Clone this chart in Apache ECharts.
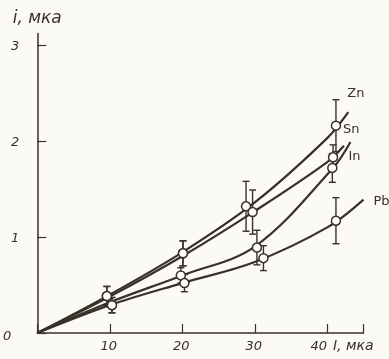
<!DOCTYPE html>
<html><head><meta charset="utf-8">
<script src="https://cdn.jsdelivr.net/npm/echarts@6/dist/echarts.min.js"></script>
<style>html,body{margin:0;padding:0;background:#fbfaf5}#c{width:389px;height:359px}</style>
</head><body><div id="c"></div>
<script>
// Fitted curves [I, i]
const znCurve = [[0,0],[10,0.40],[20,0.84],[30,1.36],[40,2.03],[42.9,2.30]];
const snCurve = [[0,0],[10,0.38],[20,0.80],[30,1.27],[40,1.78],[42.3,1.95]];
const inCurve = [[0,0],[10,0.32],[20,0.60],[30,0.90],[40.8,1.72],[43.2,1.99]];
const pbCurve = [[0,0],[10,0.29],[20,0.52],[30,0.74],[40,1.10],[45,1.39]];
// Measured points [I, i] and error half-widths
const znPts = [[9.6,0.385],[20.1,0.83],[28.8,1.32],[41.2,2.16]];
const znErr = [0.10,0.13,0.26,0.27];
const snPts = [[9.6,0.385],[20.1,0.83],[29.7,1.26],[40.8,1.83]];
const snErr = [0.10,0.13,0.23,0.13];
const inPts = [[10.3,0.29],[19.8,0.60],[30.3,0.89],[40.7,1.72]];
const inErr = [0.08,0.08,0.18,0.15];
const pbPts = [[10.3,0.29],[20.3,0.52],[31.2,0.78],[41.2,1.17]];
const pbErr = [0.08,0.09,0.13,0.24];
const seriesNames = ['Zn','Sn','In','Pb'];
const xTicks = [10,20,30,40];
const yTicks = [1,2,3];

const INK = '#3a302a';
const curves = [znCurve, snCurve, inCurve, pbCurve];
const pts = [znPts, snPts, inPts, pbPts];
const errs = [znErr, snErr, inErr, pbErr];
const labelOffsets = [[-1,-19],[-1,-16],[-2,15],[10,2]];
const FONT = 'DejaVu Sans';

const series = [];
curves.forEach((c, k) => {
  series.push({
    type:'line', name: seriesNames[k], data: c, smooth: 0.35, symbol:'none',
    lineStyle:{color:INK, width:2.2}, z:2, clip:false,
    endLabel:{show:true, formatter: seriesNames[k], distance:0, offset: labelOffsets[k],
      align:'left', verticalAlign:'middle', color:INK, fontSize:13, fontFamily:FONT}
  });
});
pts.forEach((p, k) => {
  series.push({
    type:'custom', z:3, clip:false,
    data: p.map((d,j)=>[d[0], d[1], errs[k][j]]),
    renderItem: function(params, api){
      const x = api.value(0), y = api.value(1), e = api.value(2);
      const top = api.coord([x, y+e]);
      const bot = api.coord([x, y-e]);
      const w = 3.5;
      const st = {stroke:INK, lineWidth:1.4};
      return {type:'group', children:[
        {type:'line', shape:{x1:top[0],y1:top[1],x2:bot[0],y2:bot[1]}, style:st},
        {type:'line', shape:{x1:top[0]-w,y1:top[1],x2:top[0]+w,y2:top[1]}, style:st},
        {type:'line', shape:{x1:bot[0]-w,y1:bot[1],x2:bot[0]+w,y2:bot[1]}, style:st}
      ]};
    }
  });
  series.push({
    type:'scatter', z:4, data:p, symbol:'circle', symbolSize:9,
    itemStyle:{color:'#ffffff', borderColor:INK, borderWidth:1.5, opacity:1}
  });
});

const chart = echarts.init(document.getElementById('c'), null, {renderer:'canvas'});
chart.setOption({
  backgroundColor:'#fbfaf5',
  animation:false,
  grid:{left:35, right:25.5, top:33.5, bottom:26, containLabel:false},
  xAxis:{
    type:'value', min:0, max:45, interval:10,
    axisLine:{lineStyle:{color:INK, width:1.5}},
    axisTick:{inside:true, length:9, lineStyle:{color:INK, width:1.2}},
    splitLine:{show:false},
    axisLabel:{
      margin:7, color:INK, fontFamily:FONT, fontStyle:'italic', fontSize:13,
      formatter: v => xTicks.indexOf(v) < 0 ? '' : (v===40 ? '{f|'+v+'}' : '{n|'+v+'}'),
      rich:{n:{color:INK, fontFamily:FONT, fontStyle:'italic', fontSize:13, padding:[0,2,0,0]},
            f:{color:INK, fontFamily:FONT, fontStyle:'italic', fontSize:13, padding:[0,17,0,0]}}
    },
    name:'I, мка', nameLocation:'end', nameGap:-35,
    nameTextStyle:{color:INK, fontFamily:FONT, fontStyle:'italic', fontSize:14, align:'left', verticalAlign:'top', padding:[6,0,0,0]}
  },
  yAxis:{
    type:'value', min:0, max:3.12, interval:1,
    axisLine:{lineStyle:{color:INK, width:1.5}},
    axisTick:{inside:true, length:9, lineStyle:{color:INK, width:1.2}},
    splitLine:{show:false},
    axisLabel:{
      margin:18, color:INK, showMaxLabel:false,
      formatter: v => v===0 ? '{z|0}' : (yTicks.indexOf(v) < 0 ? '' : '{n|'+v+'}'),
      rich:{n:{color:INK, fontFamily:FONT, fontStyle:'italic', fontSize:13, padding:[3,0,0,0]},
            z:{color:INK, fontFamily:FONT, fontStyle:'italic', fontSize:13, padding:[8,8,0,0]}}
    },
    name:'i, мка', nameLocation:'end', nameGap:6,
    nameTextStyle:{color:INK, fontFamily:FONT, fontStyle:'italic', fontSize:17, align:'center'}
  },
  series: series
});
</script></body></html>
